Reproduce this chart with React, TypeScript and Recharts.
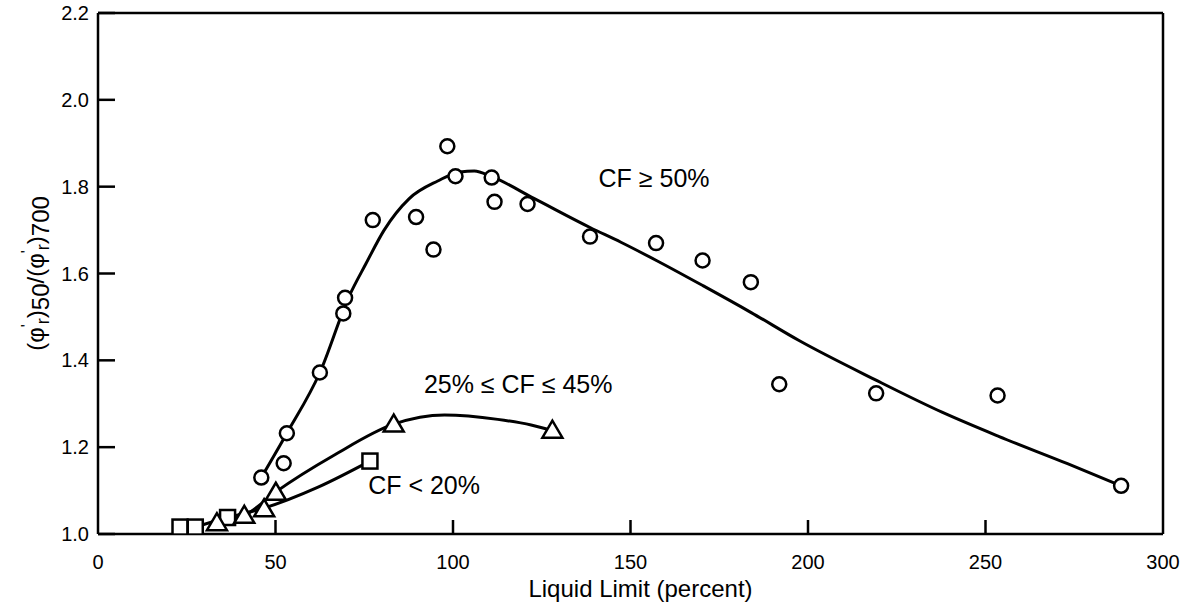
import {
  ComposedChart,
  Line,
  Scatter,
  XAxis,
  YAxis,
  ReferenceLine,
  ReferenceDot,
} from "recharts";

const FONT = '"Liberation Sans", Arial, Helvetica, sans-serif';

// measured points, [liquid limit, ratio]
const cfHighPoints: [number, number][] = [
  [46, 1.13], [52.3, 1.163], [53.2, 1.232], [62.5, 1.372], [69.1, 1.508],
  [69.6, 1.544], [77.4, 1.723], [89.6, 1.73], [94.5, 1.655], [98.4, 1.893],
  [100.7, 1.824], [110.9, 1.821], [111.7, 1.765], [121, 1.76], [138.6, 1.685],
  [157.2, 1.67], [170.3, 1.63], [183.9, 1.58], [191.9, 1.345], [219.2, 1.324],
  [253.4, 1.319], [288.2, 1.111],
];
const cfMidPoints: [number, number][] = [
  [33.5, 1.025], [41.2, 1.042], [46.8, 1.057], [50.1, 1.095], [83.3, 1.252], [128, 1.238],
];
const cfLowPoints: [number, number][] = [
  [23.1, 1.016], [27.4, 1.016], [36.5, 1.038], [76.6, 1.168],
];

// hand-drawn trend curves
const cfHighCurve: [number, number][] = [
  [46, 1.13], [53.2, 1.232], [62.5, 1.372], [70.7, 1.547], [75.5, 1.623],
  [80.6, 1.7], [87.6, 1.772], [95.7, 1.813], [102, 1.834], [106, 1.836],
  [110.9, 1.823], [122.8, 1.773], [138.6, 1.706], [147.3, 1.672], [157.3, 1.63],
  [170.4, 1.572], [184, 1.51], [197.6, 1.445], [219, 1.355], [237.9, 1.28],
  [253.7, 1.225], [273.1, 1.162], [288.2, 1.111],
];
const cfMidCurve: [number, number][] = [
  [33.5, 1.025], [41.2, 1.042], [50.1, 1.097], [66.6, 1.182], [83.3, 1.253],
  [97.6, 1.274], [112.6, 1.264], [122, 1.251], [128, 1.238],
];
const cfLowCurve: [number, number][] = [
  [27.4, 1.016], [36.5, 1.038], [46.5, 1.059], [62, 1.108], [76.6, 1.168],
];

const xTicks = [0, 50, 100, 150, 200, 250, 300];
const yTicks = [1.0, 1.2, 1.4, 1.6, 1.8, 2.0, 2.2];

const labels = [
  { x: 141, y: 1.799, text: "CF \u2265 50%" },
  { x: 91.8, y: 1.325, text: "25% \u2264 CF \u2264 45%" },
  { x: 76.1, y: 1.092, text: "CF < 20%" },
];

const toRows = (pts: [number, number][]) => pts.map(([x, y]) => ({ x, y }));

const Circle = (p: any) => (
  <circle cx={p.cx} cy={p.cy} r={7} fill="#fff" stroke="#000" strokeWidth={2.5} />
);
const Triangle = (p: any) => (
  <polygon
    points={`${p.cx},${p.cy - 10} ${p.cx - 10},${p.cy + 7} ${p.cx + 10},${p.cy + 7}`}
    fill="#fff"
    stroke="#000"
    strokeWidth={2.5}
  />
);
const Square = (p: any) => (
  <rect x={p.cx - 7.5} y={p.cy - 7.5} width={15} height={15} fill="#fff" stroke="#000" strokeWidth={2.5} />
);

const YTick = ({ x, y, payload }: any) => (
  <g>
    <line x1={x} x2={x + 17} y1={y} y2={y} stroke="#000" strokeWidth={2.5} />
    <text x={x - 9} y={y + 7} textAnchor="end" fontSize={20} fontFamily={FONT} fill="#000">
      {Number(payload.value).toFixed(1)}
    </text>
  </g>
);

const XTick = ({ x, y, payload }: any) => (
  <g>
    {payload.value > 0 && payload.value < 300 && (
      <line x1={x} x2={x} y1={y} y2={y - 14} stroke="#000" strokeWidth={2.5} />
    )}
    <text x={x} y={y + 35} textAnchor="middle" fontSize={20} fontFamily={FONT} fill="#000">
      {payload.value}
    </text>
  </g>
);

const YTitle = ({ viewBox }: any) => {
  const cx = viewBox.x + 44;
  const cy = viewBox.y + viewBox.height / 2;
  return (
    <text
      x={cx}
      y={cy}
      textAnchor="middle"
      transform={`rotate(-90, ${cx}, ${cy})`}
      fontSize={24}
      fontFamily={FONT}
      fill="#000"
    >
      <tspan>(φ</tspan>
      <tspan fontSize={16} dy={-11}>'</tspan>
      <tspan fontSize={18} dy={16}>r</tspan>
      <tspan dy={-5}>)</tspan>
      <tspan dy={5}>50</tspan>
      <tspan dy={-5}>/(φ</tspan>
      <tspan fontSize={16} dy={-11}>'</tspan>
      <tspan fontSize={18} dy={16}>r</tspan>
      <tspan dy={-5}>)</tspan>
      <tspan dy={5}>700</tspan>
    </text>
  );
};

const XTitle = ({ viewBox }: any) => (
  <text
    x={viewBox.x + viewBox.width / 2 + 10}
    y={viewBox.y + 63}
    textAnchor="middle"
    fontSize={24}
    fontFamily={FONT}
    fill="#000"
  >
    Liquid Limit (percent)
  </text>
);

export default function App() {
  return (
    <div style={{ position: "fixed", left: 0, top: 0, background: "#fff" }}>
      <ComposedChart
        width={1190}
        height={608}
        margin={{ top: 13, right: 27, bottom: 0, left: 0 }}
      >
        <XAxis
          type="number"
          dataKey="x"
          domain={[0, 300]}
          ticks={xTicks}
          allowDataOverflow
          height={74}
          tickSize={0}
          tickMargin={0}
          tickLine={false}
          axisLine={{ stroke: "#000", strokeWidth: 2.5 }}
          tick={<XTick />}
          label={{ content: <XTitle /> }}
        />
        <YAxis
          type="number"
          dataKey="y"
          domain={[1, 2.2]}
          ticks={yTicks}
          allowDataOverflow
          width={98}
          tickSize={0}
          tickMargin={0}
          tickLine={false}
          axisLine={{ stroke: "#000", strokeWidth: 2.5 }}
          tick={<YTick />}
          label={{ content: <YTitle /> }}
        />
        <ReferenceLine y={2.2} stroke="#000" strokeWidth={2.5} />
        <ReferenceLine x={300} stroke="#000" strokeWidth={2.5} />

        <Line data={toRows(cfHighCurve)} dataKey="y" type="monotone" dot={false} stroke="#000" strokeWidth={3} isAnimationActive={false} />
        <Line data={toRows(cfMidCurve)} dataKey="y" type="monotone" dot={false} stroke="#000" strokeWidth={3} isAnimationActive={false} />
        <Line data={toRows(cfLowCurve)} dataKey="y" type="monotone" dot={false} stroke="#000" strokeWidth={3} isAnimationActive={false} />

        <Scatter data={toRows(cfLowPoints)} dataKey="y" shape={Square} isAnimationActive={false} />
        <Scatter data={toRows(cfMidPoints)} dataKey="y" shape={Triangle} isAnimationActive={false} />
        <Scatter data={toRows(cfHighPoints)} dataKey="y" shape={Circle} isAnimationActive={false} />

        {labels.map((l) => (
          <ReferenceDot
            key={l.text}
            x={l.x}
            y={l.y}
            r={0}
            shape={(p: any) => (
              <text x={p.cx} y={p.cy} fontSize={25} fontFamily={FONT} fill="#000">
                {l.text}
              </text>
            )}
          />
        ))}
      </ComposedChart>
    </div>
  );
}
